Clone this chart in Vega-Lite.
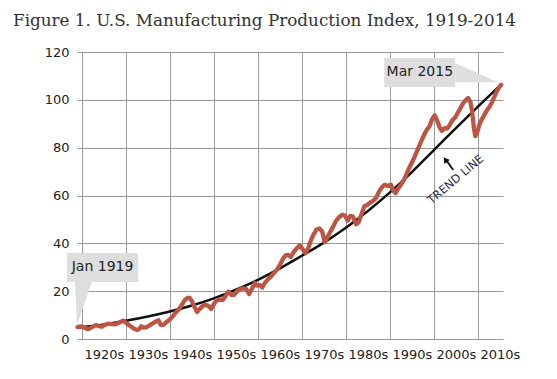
{
  "$schema": "https://vega.github.io/schema/vega-lite/v6.json",
  "width": 426,
  "height": 287,
  "autosize": "none",
  "padding": {"left": 77, "top": 52, "right": 54, "bottom": 40},
  "background": "white",
  "title": {
    "text": "Figure 1. U.S. Manufacturing Production Index, 1919-2014",
    "anchor": "start",
    "frame": "group",
    "dx": -64,
    "offset": 3,
    "baseline": "alphabetic",
    "font": "DejaVu Serif",
    "fontSize": 16.8,
    "fontWeight": "normal",
    "color": "#333333"
  },
  "config": {
    "view": {"stroke": null},
    "axis": {
      "labelFont": "DejaVu Sans",
      "labelFontSize": 13,
      "labelColor": "#222222",
      "gridColor": "#9a9a9a",
      "gridWidth": 1,
      "gridOpacity": 1,
      "ticks": false,
      "domain": false,
      "title": null,
      "labelFlush": false,
      "labelOverlap": false
    }
  },
  "datasets": {
    "series": [
      {"year": 1919.0, "value": 5.0}, {"year": 1919.5, "value": 5.2}, {"year": 1920.0, "value": 5.3},
      {"year": 1920.8, "value": 4.6}, {"year": 1921.3, "value": 4.1}, {"year": 1921.8, "value": 4.4},
      {"year": 1922.5, "value": 5.2}, {"year": 1923.2, "value": 5.8}, {"year": 1924.0, "value": 5.3},
      {"year": 1924.6, "value": 5.2}, {"year": 1925.3, "value": 6.0}, {"year": 1926.0, "value": 6.4},
      {"year": 1926.8, "value": 6.2}, {"year": 1927.5, "value": 6.1}, {"year": 1928.2, "value": 6.6},
      {"year": 1929.0, "value": 7.3}, {"year": 1929.5, "value": 7.7}, {"year": 1930.2, "value": 6.5},
      {"year": 1931.0, "value": 5.4}, {"year": 1931.8, "value": 4.4}, {"year": 1932.5, "value": 3.8},
      {"year": 1933.0, "value": 4.1}, {"year": 1933.5, "value": 5.3}, {"year": 1934.0, "value": 4.8},
      {"year": 1934.7, "value": 5.0}, {"year": 1935.3, "value": 5.6}, {"year": 1936.0, "value": 6.4},
      {"year": 1936.7, "value": 7.2}, {"year": 1937.4, "value": 7.8}, {"year": 1938.0, "value": 5.8},
      {"year": 1938.6, "value": 6.0}, {"year": 1939.3, "value": 7.2}, {"year": 1940.0, "value": 8.2},
      {"year": 1940.6, "value": 9.3}, {"year": 1941.3, "value": 11.0}, {"year": 1942.0, "value": 12.3},
      {"year": 1942.7, "value": 14.2}, {"year": 1943.4, "value": 16.3}, {"year": 1944.0, "value": 17.2},
      {"year": 1944.5, "value": 17.2}, {"year": 1945.0, "value": 15.8}, {"year": 1945.6, "value": 13.4},
      {"year": 1946.2, "value": 11.3}, {"year": 1946.8, "value": 12.6}, {"year": 1947.5, "value": 13.9},
      {"year": 1948.2, "value": 14.3}, {"year": 1948.8, "value": 13.7}, {"year": 1949.4, "value": 12.6},
      {"year": 1950.0, "value": 14.6}, {"year": 1950.6, "value": 16.2}, {"year": 1951.3, "value": 16.5},
      {"year": 1952.0, "value": 16.3}, {"year": 1952.6, "value": 17.8}, {"year": 1953.3, "value": 19.8},
      {"year": 1954.0, "value": 18.4}, {"year": 1954.6, "value": 18.5}, {"year": 1955.3, "value": 20.0},
      {"year": 1956.0, "value": 20.8}, {"year": 1956.6, "value": 21.2}, {"year": 1957.3, "value": 21.0},
      {"year": 1958.0, "value": 18.8}, {"year": 1958.6, "value": 20.8}, {"year": 1959.3, "value": 23.3},
      {"year": 1959.8, "value": 22.3}, {"year": 1960.5, "value": 22.5}, {"year": 1961.0, "value": 21.5},
      {"year": 1961.6, "value": 23.5}, {"year": 1962.3, "value": 25.0}, {"year": 1963.0, "value": 26.2},
      {"year": 1963.6, "value": 27.5}, {"year": 1964.3, "value": 28.9}, {"year": 1965.0, "value": 31.0},
      {"year": 1965.6, "value": 33.2}, {"year": 1966.3, "value": 35.0}, {"year": 1966.9, "value": 35.2},
      {"year": 1967.5, "value": 34.3}, {"year": 1968.2, "value": 36.5}, {"year": 1968.8, "value": 37.8},
      {"year": 1969.5, "value": 39.2}, {"year": 1970.2, "value": 37.5}, {"year": 1970.8, "value": 36.0},
      {"year": 1971.4, "value": 37.8}, {"year": 1972.0, "value": 41.0}, {"year": 1972.6, "value": 43.5},
      {"year": 1973.3, "value": 45.8}, {"year": 1974.0, "value": 46.2}, {"year": 1974.6, "value": 45.0},
      {"year": 1975.2, "value": 40.5}, {"year": 1975.8, "value": 42.5}, {"year": 1976.5, "value": 45.0},
      {"year": 1977.1, "value": 47.0}, {"year": 1977.8, "value": 49.5}, {"year": 1978.5, "value": 51.0},
      {"year": 1979.2, "value": 52.0}, {"year": 1979.8, "value": 51.5}, {"year": 1980.4, "value": 49.5},
      {"year": 1981.0, "value": 51.5}, {"year": 1981.6, "value": 51.2}, {"year": 1982.3, "value": 48.0},
      {"year": 1982.9, "value": 48.8}, {"year": 1983.5, "value": 52.0}, {"year": 1984.2, "value": 55.5},
      {"year": 1984.8, "value": 56.0}, {"year": 1985.5, "value": 57.0}, {"year": 1986.2, "value": 57.8},
      {"year": 1986.8, "value": 58.8}, {"year": 1987.5, "value": 61.5}, {"year": 1988.2, "value": 63.5},
      {"year": 1988.8, "value": 64.5}, {"year": 1989.5, "value": 64.0}, {"year": 1990.2, "value": 64.5},
      {"year": 1990.8, "value": 62.0}, {"year": 1991.3, "value": 61.0}, {"year": 1991.9, "value": 63.0},
      {"year": 1992.5, "value": 64.5}, {"year": 1993.2, "value": 66.5}, {"year": 1993.8, "value": 69.0},
      {"year": 1994.5, "value": 72.0}, {"year": 1995.2, "value": 74.5}, {"year": 1995.8, "value": 77.0},
      {"year": 1996.5, "value": 80.0}, {"year": 1997.2, "value": 83.0}, {"year": 1997.8, "value": 85.5},
      {"year": 1998.4, "value": 87.5}, {"year": 1999.0, "value": 89.0}, {"year": 1999.6, "value": 92.0},
      {"year": 2000.2, "value": 93.5}, {"year": 2000.7, "value": 91.5}, {"year": 2001.3, "value": 88.5},
      {"year": 2001.8, "value": 87.0}, {"year": 2002.4, "value": 88.2}, {"year": 2003.0, "value": 88.0},
      {"year": 2003.6, "value": 89.5}, {"year": 2004.2, "value": 91.5}, {"year": 2004.8, "value": 92.5},
      {"year": 2005.4, "value": 94.5}, {"year": 2006.0, "value": 96.5}, {"year": 2006.6, "value": 98.5},
      {"year": 2007.2, "value": 99.8}, {"year": 2007.8, "value": 100.8}, {"year": 2008.3, "value": 99.0},
      {"year": 2008.7, "value": 95.0}, {"year": 2009.1, "value": 88.0}, {"year": 2009.4, "value": 84.8},
      {"year": 2009.8, "value": 86.0}, {"year": 2010.3, "value": 89.5}, {"year": 2010.8, "value": 91.5},
      {"year": 2011.4, "value": 93.5}, {"year": 2012.0, "value": 95.5}, {"year": 2012.6, "value": 97.0},
      {"year": 2013.2, "value": 99.0}, {"year": 2013.8, "value": 101.5}, {"year": 2014.4, "value": 104.0},
      {"year": 2014.9, "value": 105.5}, {"year": 2015.3, "value": 106.3}
    ],
    "trend": [
      {"year": 1919, "value": 4.8}, {"year": 1925, "value": 6.1}, {"year": 1930, "value": 7.6},
      {"year": 1935, "value": 9.4}, {"year": 1940, "value": 11.5}, {"year": 1945, "value": 14.0},
      {"year": 1950, "value": 17.0}, {"year": 1955, "value": 20.6}, {"year": 1960, "value": 24.7},
      {"year": 1965, "value": 29.5}, {"year": 1970, "value": 34.8}, {"year": 1975, "value": 40.3},
      {"year": 1980, "value": 46.5}, {"year": 1985, "value": 53.5}, {"year": 1990, "value": 61.3},
      {"year": 1995, "value": 69.8}, {"year": 2000, "value": 79.0}, {"year": 2005, "value": 88.2},
      {"year": 2010, "value": 97.2}, {"year": 2015.3, "value": 106.5}
    ],
    "wedgeJan": [
      {"value": 23.8, "x": 1918.45, "x2": 1922.3},
      {"value": 5.9, "x": 1918.9, "x2": 1918.9}
    ],
    "wedgeMar": [
      {"value": 115.4, "x": 2004.85, "x2": 2004.85},
      {"value": 107.4, "x": 2004.85, "x2": 2014.6}
    ]
  },
  "layer": [
    {
      "data": {"name": "trend"},
      "mark": {"type": "line", "color": "#111111", "strokeWidth": 2.5, "interpolate": "monotone"},
      "encoding": {
        "x": {
          "field": "year", "type": "quantitative",
          "scale": {"domain": [1918.9, 2015.7], "nice": false, "zero": false},
          "axis": {
            "values": [1920, 1930, 1940, 1950, 1960, 1970, 1980, 1990, 2000, 2010],
            "labelExpr": "datum.value + 's'",
            "labelOffset": 22,
            "labelPadding": 9,
            "grid": true
          }
        },
        "y": {
          "field": "value", "type": "quantitative",
          "scale": {"domain": [0, 120], "nice": false},
          "axis": {"values": [0, 20, 40, 60, 80, 100, 120], "labelPadding": 8, "grid": true}
        }
      }
    },
    {
      "data": {"name": "series"},
      "mark": {"type": "line", "color": "#bd5544", "strokeWidth": 4.3, "strokeCap": "round", "strokeJoin": "round"},
      "encoding": {
        "x": {"field": "year", "type": "quantitative"},
        "y": {"field": "value", "type": "quantitative"}
      }
    },
    {
      "data": {"name": "wedgeJan"},
      "mark": {"type": "area", "orient": "horizontal", "color": "#dedede", "opacity": 1},
      "encoding": {
        "y": {"field": "value", "type": "quantitative"},
        "x": {"field": "x", "type": "quantitative"},
        "x2": {"field": "x2"}
      }
    },
    {
      "data": {"name": "wedgeMar"},
      "mark": {"type": "area", "orient": "horizontal", "color": "#dedede", "opacity": 1},
      "encoding": {
        "y": {"field": "value", "type": "quantitative"},
        "x": {"field": "x", "type": "quantitative"},
        "x2": {"field": "x2"}
      }
    },
    {
      "data": {"values": [{"label": "Jan 1919"}]},
      "mark": {"type": "rect", "color": "#dedede"},
      "encoding": {
        "x": {"datum": 1916.6, "type": "quantitative"},
        "x2": {"datum": 1932.8},
        "y": {"datum": 36.0, "type": "quantitative"},
        "y2": {"datum": 23.8}
      }
    },
    {
      "data": {"values": [{"label": "Mar 2015"}]},
      "mark": {"type": "rect", "color": "#dedede"},
      "encoding": {
        "x": {"datum": 1988.7, "type": "quantitative"},
        "x2": {"datum": 2004.85},
        "y": {"datum": 117.5, "type": "quantitative"},
        "y2": {"datum": 105.4}
      }
    },
    {
      "data": {"values": [{"label": "Jan 1919"}]},
      "mark": {"type": "text", "font": "DejaVu Sans", "fontSize": 14, "color": "#222222", "align": "center", "baseline": "middle"},
      "encoding": {
        "x": {"datum": 1924.7, "type": "quantitative"},
        "y": {"datum": 29.9, "type": "quantitative"},
        "text": {"field": "label"}
      }
    },
    {
      "data": {"values": [{"label": "Mar 2015"}]},
      "mark": {"type": "text", "font": "DejaVu Sans", "fontSize": 14, "color": "#222222", "align": "center", "baseline": "middle"},
      "encoding": {
        "x": {"datum": 1996.8, "type": "quantitative"},
        "y": {"datum": 111.5, "type": "quantitative"},
        "text": {"field": "label"}
      }
    },
    {
      "data": {"values": [{"label": "TREND LINE"}]},
      "mark": {"type": "text", "font": "DejaVu Sans", "fontSize": 11.5, "color": "#1f2d4d", "align": "center", "baseline": "middle", "angle": 320},
      "encoding": {
        "x": {"datum": 2005.0, "type": "quantitative"},
        "y": {"datum": 66.5, "type": "quantitative"},
        "text": {"field": "label"}
      }
    },
    {
      "data": {"values": [{"label": "arrow"}]},
      "mark": {"type": "rule", "color": "#111111", "strokeWidth": 1.8},
      "encoding": {
        "x": {"datum": 2004.4, "type": "quantitative"},
        "x2": {"datum": 2002.8},
        "y": {"datum": 70.7, "type": "quantitative"},
        "y2": {"datum": 74.8}
      }
    },
    {
      "data": {"values": [{"label": "arrowhead"}]},
      "mark": {"type": "point", "shape": "triangle-up", "filled": true, "color": "#111111", "size": 45, "angle": 325, "opacity": 1},
      "encoding": {
        "x": {"datum": 2002.6, "type": "quantitative"},
        "y": {"datum": 75.0, "type": "quantitative"}
      }
    }
  ]
}
